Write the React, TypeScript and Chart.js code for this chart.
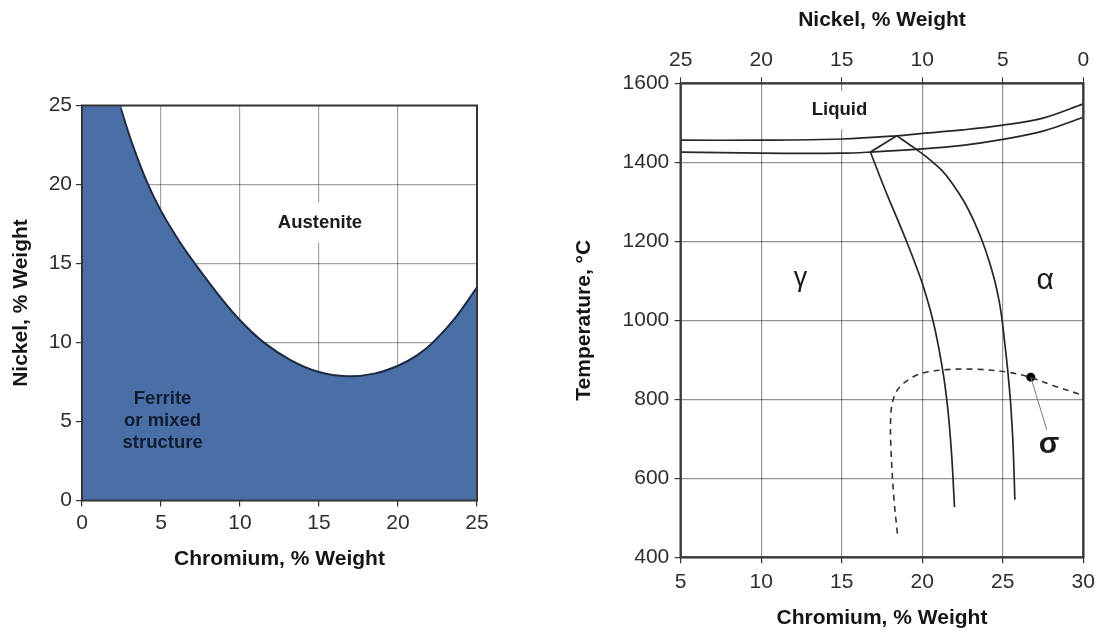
import React, { useEffect, useRef } from "react";
import { Chart, registerables } from "chart.js";

Chart.register(...registerables);

// ---------- Left panel: Cr / Ni constitution diagram (wt %) ----------
const leftAxisMax = 25;
const boundaryCr = [2.4, 3.2, 4.1, 5, 6.2, 7.3, 8.7, 10, 11.5, 13.2, 15, 16.8, 18.5, 20, 21.2, 22.2, 23.6, 25];
const boundaryNi = [25, 22.52, 20.18, 18.33, 16.35, 14.79, 12.94, 11.41, 10.01, 8.89, 8.13, 7.86, 8.03, 8.53, 9.19, 9.99, 11.53, 13.49];
// fully ferritic strip at the top-left corner, left of the boundary start
const cornerCr = [0, 2.45];
const cornerNi = [25, 25];

// ---------- Right panel: temperature section, Cr (bottom) / Ni (top) ----------
const liquidusCr = [5, 10, 15, 18.42, 20, 22.5, 25, 27.5, 30];
const liquidusT = [1456, 1456, 1459, 1467, 1473, 1482, 1494, 1512, 1548];
const solidusCr = [5, 10, 15, 16.78, 20, 22.5, 25, 27.5, 30];
const solidusT = [1426, 1423, 1423, 1426, 1434, 1443, 1458, 1479, 1514];
const wedgeCr = [16.78, 18.42];
const wedgeT = [1426, 1467];
const gammaCr = [16.78, 17.5, 18.0, 18.52, 19.02, 19.5, 19.95, 20.33, 20.66, 20.93, 21.16, 21.36, 21.52, 21.65, 21.75, 21.84, 21.91, 22.0];
const gammaT = [1426, 1350, 1300, 1250, 1200, 1150, 1100, 1050, 1000, 950, 900, 850, 800, 750, 700, 650, 600, 527];
const alphaCr = [18.42, 19.38, 20.37, 21.2, 21.8, 22.6, 23.22, 23.73, 24.15, 24.5, 24.77, 24.96, 25.1, 25.24, 25.36, 25.47, 25.55, 25.62, 25.67, 25.71, 25.75];
const alphaT = [1467, 1440, 1410, 1380, 1350, 1300, 1250, 1200, 1150, 1100, 1050, 1000, 950, 900, 850, 800, 750, 700, 650, 600, 546];
const sigmaCr = [18.46, 18.25, 18.06, 18.04, 18.2, 18.6, 19.45, 20.3, 21.9, 23.4, 25.25, 26.7, 28.1, 30];
const sigmaT = [460, 544, 671, 755, 800, 831, 857, 869, 876, 876, 869, 856, 835, 810];
const sigmaPointCr = [26.74];
const sigmaPointT = [856];
const sigmaLeaderCr = [26.74, 27.73];
const sigmaLeaderT = [856, 723];
const crTicksRange = [5, 30];
const niTicksRange = [0, 25];
const tempRange = [400, 1600];

const pts = (xs: number[], ys: number[]) => xs.map((x, i) => ({ x, y: ys[i] }));

const FAMILY = "'Liberation Sans', Arial, Helvetica, sans-serif";
const tickFont = { family: FAMILY, size: 21 };
const titleFont = { family: FAMILY, size: 21, weight: "bold" as const };
const TICK_COLOR = "#2e2e2e";
const TITLE_COLOR = "#151515";
const BLUE = "#4a6fa6";
const NAVY = "#1c2a44";

type Note = {
  lines: string[];
  x: number;
  y: number;
  font: string;
  color: string;
  bg?: string;
  padX?: number;
  padY?: number;
  lineHeight?: number;
};

// text placed at data coordinates, optionally on a solid box that hides the grid
const makeNotes = (items: Note[]) => ({
  id: "notes",
  afterDraw(chart: any) {
    const { ctx } = chart;
    const xs = chart.scales.x;
    const ys = chart.scales.y;
    ctx.save();
    for (const n of items) {
      const cx = xs.getPixelForValue(n.x);
      const cy = ys.getPixelForValue(n.y);
      ctx.font = n.font;
      const lh = n.lineHeight ?? 22;
      const w = Math.max(...n.lines.map((l) => ctx.measureText(l).width));
      const h = lh * n.lines.length;
      if (n.bg) {
        const px = n.padX ?? 8;
        const py = n.padY ?? 6;
        ctx.fillStyle = n.bg;
        ctx.fillRect(cx - w / 2 - px, cy - h / 2 - py, w + 2 * px, h + 2 * py);
      }
      ctx.fillStyle = n.color;
      ctx.textAlign = "center";
      ctx.textBaseline = "middle";
      n.lines.forEach((l, i) => ctx.fillText(l, cx, cy - h / 2 + lh * (i + 0.5)));
    }
    ctx.restore();
  },
});

// dark outline around the plotting area
const makeFrame = (color: string, width: number) => ({
  id: "frame",
  afterDraw(chart: any) {
    const { ctx, chartArea: a } = chart;
    ctx.save();
    ctx.strokeStyle = color;
    ctx.lineWidth = width;
    ctx.strokeRect(a.left, a.top, a.right - a.left, a.bottom - a.top);
    ctx.restore();
  },
});

const plainTick = (v: any) => String(v);

function buildLeft(): any {
  const grid = { color: "rgba(0,0,0,0.36)", lineWidth: 1.2, tickColor: "#333", tickLength: 6 };
  return {
    type: "scatter",
    data: {
      datasets: [
        {
          data: pts(cornerCr, cornerNi),
          showLine: true,
          fill: "origin",
          backgroundColor: BLUE,
          borderWidth: 0,
          pointRadius: 0,
          tension: 0,
        },
        {
          data: pts(boundaryCr, boundaryNi),
          showLine: true,
          fill: "origin",
          backgroundColor: BLUE,
          borderColor: NAVY,
          borderWidth: 2,
          pointRadius: 0,
          tension: 0.4,
        },
      ],
    },
    options: {
      responsive: false,
      animation: false,
      events: [],
      layout: { padding: { left: 0, top: 105.5, right: 63, bottom: 0 } },
      plugins: { legend: { display: false }, tooltip: { enabled: false } },
      scales: {
        x: {
          type: "linear",
          min: 0,
          max: leftAxisMax,
          z: 1,
          ticks: { stepSize: 5, font: tickFont, color: TICK_COLOR, padding: 4, callback: plainTick },
          grid,
          border: { display: false },
          title: {
            display: true,
            text: "Chromium, % Weight",
            font: titleFont,
            color: TITLE_COLOR,
            padding: { top: 0, bottom: 60.4 },
          },
          afterFit: (s: any) => {
            s.height = 131.5;
          },
        },
        y: {
          type: "linear",
          min: 0,
          max: leftAxisMax,
          z: 1,
          ticks: { stepSize: 5, font: tickFont, color: TICK_COLOR, padding: 4, callback: plainTick },
          grid,
          border: { display: false },
          title: {
            display: true,
            text: "Nickel, % Weight",
            font: titleFont,
            color: TITLE_COLOR,
            padding: { top: 8.4, bottom: 0 },
          },
          afterFit: (s: any) => {
            s.width = 82;
          },
        },
      },
    },
    plugins: [
      makeNotes([
        {
          lines: ["Austenite"],
          x: 15.06,
          y: 17.6,
          font: `bold 18.5px ${FAMILY}`,
          color: "#1a1a1a",
          bg: "#ffffff",
          padX: 8,
          padY: 9,
        },
        {
          lines: ["Ferrite", "or mixed", "structure"],
          x: 5.1,
          y: 5.05,
          font: `bold 18.5px ${FAMILY}`,
          color: "#121d33",
          bg: BLUE,
          padX: 14,
          padY: 9,
          lineHeight: 22,
        },
      ]),
      makeFrame("#363636", 2),
    ],
  };
}

function buildRight(): any {
  const line = (xs: number[], ys: number[], extra: any = {}) => ({
    data: pts(xs, ys),
    showLine: true,
    fill: false,
    borderColor: "#262626",
    borderWidth: 1.7,
    pointRadius: 0,
    tension: 0.35,
    ...extra,
  });
  const grid = { color: "rgba(0,0,0,0.42)", lineWidth: 1.2, tickColor: "#333", tickLength: 6 };
  return {
    type: "scatter",
    data: {
      datasets: [
        line(liquidusCr, liquidusT),
        line(solidusCr, solidusT),
        line(wedgeCr, wedgeT, { tension: 0 }),
        line(gammaCr, gammaT),
        line(alphaCr, alphaT),
        line(sigmaCr, sigmaT, { borderDash: [6, 5], borderWidth: 1.6, borderColor: "#333" }),
        line(sigmaLeaderCr, sigmaLeaderT, { tension: 0, borderWidth: 1, borderColor: "#777" }),
        {
          data: pts(sigmaPointCr, sigmaPointT),
          showLine: false,
          pointRadius: 4.5,
          pointBackgroundColor: "#000",
          pointBorderWidth: 0,
        },
      ],
    },
    options: {
      responsive: false,
      animation: false,
      events: [],
      layout: { padding: { left: 0, top: 0, right: 20.7, bottom: 0 } },
      plugins: { legend: { display: false }, tooltip: { enabled: false } },
      scales: {
        x: {
          type: "linear",
          position: "bottom",
          min: crTicksRange[0],
          max: crTicksRange[1],
          ticks: { stepSize: 5, font: tickFont, color: TICK_COLOR, padding: 6, callback: plainTick },
          grid,
          border: { display: false },
          title: {
            display: true,
            text: "Chromium, % Weight",
            font: titleFont,
            color: TITLE_COLOR,
            padding: { top: 0, bottom: 1.4 },
          },
          afterFit: (s: any) => {
            s.height = 74.7;
          },
        },
        x2: {
          type: "linear",
          position: "top",
          min: niTicksRange[0],
          max: niTicksRange[1],
          reverse: true,
          ticks: { stepSize: 5, font: tickFont, color: TICK_COLOR, padding: 4.7, callback: plainTick },
          grid: { drawOnChartArea: false, tickColor: "#333", tickLength: 6 },
          border: { display: false },
          title: {
            display: true,
            text: "Nickel, % Weight",
            font: titleFont,
            color: TITLE_COLOR,
            padding: { top: 7.4, bottom: 0 },
          },
          afterFit: (s: any) => {
            s.height = 83.3;
          },
        },
        y: {
          type: "linear",
          min: tempRange[0],
          max: tempRange[1],
          ticks: { stepSize: 200, font: tickFont, color: TICK_COLOR, padding: 5.4, callback: plainTick },
          grid,
          border: { display: false },
          title: {
            display: true,
            text: "Temperature, °C",
            font: titleFont,
            color: TITLE_COLOR,
            padding: { top: 31.4, bottom: 0 },
          },
          afterFit: (s: any) => {
            s.width = 140.7;
          },
        },
      },
    },
    plugins: [
      makeFrame("#3a3a3a", 2.4),
      makeNotes([
        {
          lines: ["Liquid"],
          x: 14.86,
          y: 1532,
          font: `bold 18.5px ${FAMILY}`,
          color: "#1a1a1a",
          bg: "#ffffff",
          padX: 6,
          padY: 8,
        },
        { lines: ["γ"], x: 12.44, y: 1106, font: `27px ${FAMILY}`, color: "#1a1a1a" },
        { lines: ["α"], x: 27.63, y: 1100, font: `30px ${FAMILY}`, color: "#1a1a1a" },
        { lines: ["σ"], x: 27.87, y: 686, font: `bold 30px ${FAMILY}`, color: "#1a1a1a" },
      ]),
    ],
  };
}

function ChartCanvas({ left, width, height, build }: { left: number; width: number; height: number; build: () => any }) {
  const ref = useRef<HTMLCanvasElement>(null);
  useEffect(() => {
    const chart = new Chart(ref.current as HTMLCanvasElement, build());
    return () => chart.destroy();
  }, [build]);
  return (
    <canvas
      ref={ref}
      width={width}
      height={height}
      style={{ position: "absolute", left, top: 0, width, height, display: "block" }}
    />
  );
}

export default function App() {
  return (
    <div
      style={{
        position: "absolute",
        left: 0,
        top: 0,
        width: 1104,
        height: 632,
        background: "#ffffff",
        overflow: "hidden",
      }}
    >
      <ChartCanvas left={0} width={540} height={632} build={buildLeft} />
      <ChartCanvas left={540} width={564} height={632} build={buildRight} />
    </div>
  );
}
